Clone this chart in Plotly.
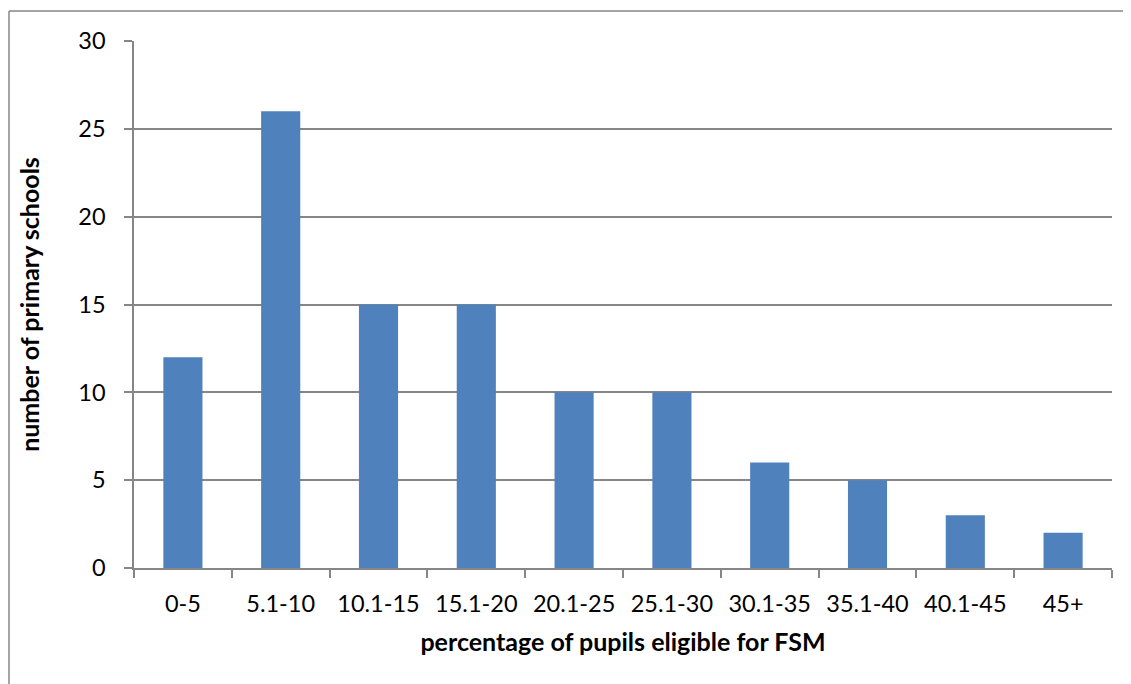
import plotly.graph_objects as go

# FSM bands and school counts
bands = ["0-5", "5.1-10", "10.1-15", "15.1-20", "20.1-25",
         "25.1-30", "30.1-35", "35.1-40", "40.1-45", "45+"]
schools = [12, 26, 15, 15, 10, 10, 6, 5, 3, 2]
y_ticks = [0, 5, 10, 15, 20, 25, 30]

# page body has an 8px margin, so the figure is sized/offset to compensate
W, H = 1123, 676
L, R, T, B = 126, 19, 33, 116
pw, ph = W - L - R, H - T - B

grey = "#868686"
font = "Lato, Carlito, Calibri, sans-serif"

fig = go.Figure()
fig.add_trace(go.Bar(x=bands, y=schools, marker_color="#4F81BD",
                     marker_line_width=0, showlegend=False))

# outer chart-area border (cut off at right and bottom like the original)
def px_x(v):
    return (v - L) / pw

def px_y(v):
    return (H - B - v) / ph

fig.add_shape(type="line", xref="paper", yref="paper",
              x0=px_x(1), x1=px_x(1140), y0=px_y(3), y1=px_y(3),
              line=dict(color=grey, width=1.5))
fig.add_shape(type="line", xref="paper", yref="paper",
              x0=px_x(1), x1=px_x(1), y0=px_y(3), y1=px_y(700),
              line=dict(color=grey, width=1.5))

fig.update_layout(
    width=W, height=H,
    margin=dict(l=L, r=R, t=T, b=B, autoexpand=False),
    paper_bgcolor="white", plot_bgcolor="white",
    bargap=0.6,
    font=dict(family=font, size=23.5, color="black"),
    xaxis=dict(
        type="category", tickson="boundaries",
        ticks="outside", ticklen=8, tickcolor=grey, tickwidth=1.5,
        showline=True, linecolor=grey, linewidth=1.5,
        showgrid=False, ticklabelstandoff=14, automargin=False,
        title=dict(text="<b>percentage of pupils eligible for FSM</b>",
                   font=dict(size=25), standoff=18),
    ),
    yaxis=dict(
        range=[0, 30], tickvals=y_ticks,
        ticks="outside", ticklen=8, tickcolor=grey, tickwidth=1.5,
        showline=True, linecolor=grey, linewidth=1.5,
        showgrid=True, gridcolor=grey, gridwidth=1.5,
        zeroline=False, ticklabelstandoff=14, automargin=False,
        title=dict(text="<b>number of primary schools</b>",
                   font=dict(size=25), standoff=32),
    ),
)

fig.write_html("out.html")
